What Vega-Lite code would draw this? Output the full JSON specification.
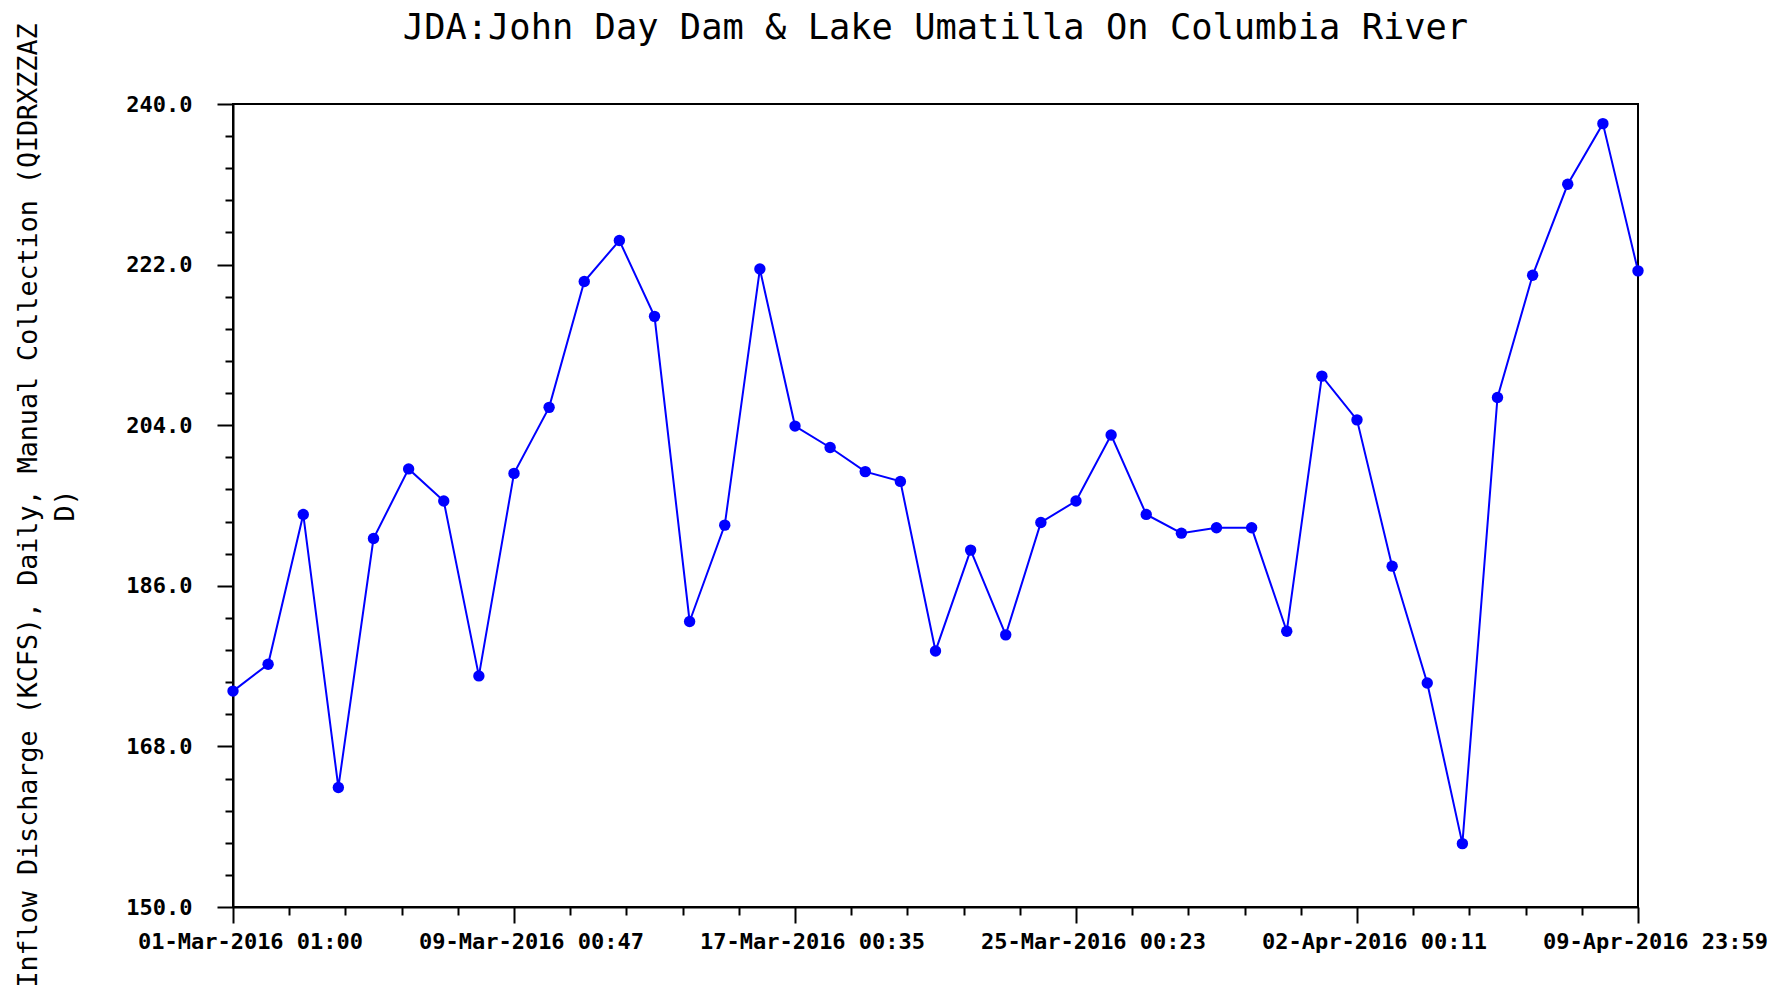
{
  "$schema": "https://vega.github.io/schema/vega-lite/v6.json",
  "width": 1405,
  "height": 803,
  "autosize": {"type": "none"},
  "padding": {"left": 233, "top": 104, "right": 144, "bottom": 82},
  "background": "white",
  "title": {"text": "JDA:John Day Dam & Lake Umatilla On Columbia River", "font": "DejaVu Sans Mono", "fontSize": 35.4, "fontWeight": "normal", "color": "black", "offset": -23, "anchor": "middle"},
  "config": {"view": {"stroke": "black", "strokeWidth": 2}},
  "data": {"values": [
    {"time": "2016-03-01T01:00:00Z", "kcfs": 174.2},
    {"time": "2016-03-02T00:58:00Z", "kcfs": 177.2},
    {"time": "2016-03-03T00:57:00Z", "kcfs": 194.0},
    {"time": "2016-03-04T00:55:00Z", "kcfs": 163.4},
    {"time": "2016-03-05T00:54:00Z", "kcfs": 191.3},
    {"time": "2016-03-06T00:52:00Z", "kcfs": 199.1},
    {"time": "2016-03-07T00:51:00Z", "kcfs": 195.5},
    {"time": "2016-03-08T00:49:00Z", "kcfs": 175.9},
    {"time": "2016-03-09T00:48:00Z", "kcfs": 198.6},
    {"time": "2016-03-10T00:46:00Z", "kcfs": 206.0},
    {"time": "2016-03-11T00:45:00Z", "kcfs": 220.1},
    {"time": "2016-03-12T00:43:00Z", "kcfs": 224.7},
    {"time": "2016-03-13T00:42:00Z", "kcfs": 216.2},
    {"time": "2016-03-14T00:40:00Z", "kcfs": 182.0},
    {"time": "2016-03-15T00:39:00Z", "kcfs": 192.8},
    {"time": "2016-03-16T00:37:00Z", "kcfs": 221.5},
    {"time": "2016-03-17T00:36:00Z", "kcfs": 203.9},
    {"time": "2016-03-18T00:34:00Z", "kcfs": 201.5},
    {"time": "2016-03-19T00:33:00Z", "kcfs": 198.8},
    {"time": "2016-03-20T00:31:00Z", "kcfs": 197.7},
    {"time": "2016-03-21T00:30:00Z", "kcfs": 178.7},
    {"time": "2016-03-22T00:28:00Z", "kcfs": 190.0},
    {"time": "2016-03-23T00:26:00Z", "kcfs": 180.5},
    {"time": "2016-03-24T00:25:00Z", "kcfs": 193.1},
    {"time": "2016-03-25T00:23:00Z", "kcfs": 195.5},
    {"time": "2016-03-26T00:22:00Z", "kcfs": 202.9},
    {"time": "2016-03-27T00:20:00Z", "kcfs": 194.0},
    {"time": "2016-03-28T00:19:00Z", "kcfs": 191.9},
    {"time": "2016-03-29T00:17:00Z", "kcfs": 192.5},
    {"time": "2016-03-30T00:16:00Z", "kcfs": 192.5},
    {"time": "2016-03-31T00:14:00Z", "kcfs": 180.9},
    {"time": "2016-04-01T00:13:00Z", "kcfs": 209.5},
    {"time": "2016-04-02T00:11:00Z", "kcfs": 204.6},
    {"time": "2016-04-03T00:10:00Z", "kcfs": 188.2},
    {"time": "2016-04-04T00:08:00Z", "kcfs": 175.1},
    {"time": "2016-04-05T00:07:00Z", "kcfs": 157.1},
    {"time": "2016-04-06T00:05:00Z", "kcfs": 207.1},
    {"time": "2016-04-07T00:04:00Z", "kcfs": 220.8},
    {"time": "2016-04-08T00:02:00Z", "kcfs": 231.0},
    {"time": "2016-04-09T00:01:00Z", "kcfs": 237.8},
    {"time": "2016-04-09T23:59:00Z", "kcfs": 221.3}
  ]},
  "encoding": {
    "x": {
      "field": "time", "type": "temporal",
      "scale": {"type": "utc", "domain": [
        {"utc": true, "year": 2016, "month": 3, "date": 1, "hours": 1, "minutes": 0},
        {"utc": true, "year": 2016, "month": 4, "date": 9, "hours": 23, "minutes": 59}
      ]},
      "axis": {
        "values": [
          {"utc": true, "year": 2016, "month": 3, "date": 1, "hours": 1, "minutes": 0, "seconds": 0},
          {"utc": true, "year": 2016, "month": 3, "date": 2, "hours": 15, "minutes": 21, "seconds": 34},
          {"utc": true, "year": 2016, "month": 3, "date": 4, "hours": 5, "minutes": 43, "seconds": 7},
          {"utc": true, "year": 2016, "month": 3, "date": 5, "hours": 20, "minutes": 4, "seconds": 41},
          {"utc": true, "year": 2016, "month": 3, "date": 7, "hours": 10, "minutes": 26, "seconds": 14},
          {"utc": true, "year": 2016, "month": 3, "date": 9, "hours": 0, "minutes": 47, "seconds": 48},
          {"utc": true, "year": 2016, "month": 3, "date": 10, "hours": 15, "minutes": 9, "seconds": 22},
          {"utc": true, "year": 2016, "month": 3, "date": 12, "hours": 5, "minutes": 30, "seconds": 55},
          {"utc": true, "year": 2016, "month": 3, "date": 13, "hours": 19, "minutes": 52, "seconds": 29},
          {"utc": true, "year": 2016, "month": 3, "date": 15, "hours": 10, "minutes": 14, "seconds": 2},
          {"utc": true, "year": 2016, "month": 3, "date": 17, "hours": 0, "minutes": 35, "seconds": 36},
          {"utc": true, "year": 2016, "month": 3, "date": 18, "hours": 14, "minutes": 57, "seconds": 10},
          {"utc": true, "year": 2016, "month": 3, "date": 20, "hours": 5, "minutes": 18, "seconds": 43},
          {"utc": true, "year": 2016, "month": 3, "date": 21, "hours": 19, "minutes": 40, "seconds": 17},
          {"utc": true, "year": 2016, "month": 3, "date": 23, "hours": 10, "minutes": 1, "seconds": 50},
          {"utc": true, "year": 2016, "month": 3, "date": 25, "hours": 0, "minutes": 23, "seconds": 24},
          {"utc": true, "year": 2016, "month": 3, "date": 26, "hours": 14, "minutes": 44, "seconds": 58},
          {"utc": true, "year": 2016, "month": 3, "date": 28, "hours": 5, "minutes": 6, "seconds": 31},
          {"utc": true, "year": 2016, "month": 3, "date": 29, "hours": 19, "minutes": 28, "seconds": 5},
          {"utc": true, "year": 2016, "month": 3, "date": 31, "hours": 9, "minutes": 49, "seconds": 38},
          {"utc": true, "year": 2016, "month": 4, "date": 2, "hours": 0, "minutes": 11, "seconds": 12},
          {"utc": true, "year": 2016, "month": 4, "date": 3, "hours": 14, "minutes": 32, "seconds": 46},
          {"utc": true, "year": 2016, "month": 4, "date": 5, "hours": 4, "minutes": 54, "seconds": 19},
          {"utc": true, "year": 2016, "month": 4, "date": 6, "hours": 19, "minutes": 15, "seconds": 53},
          {"utc": true, "year": 2016, "month": 4, "date": 8, "hours": 9, "minutes": 37, "seconds": 26},
          {"utc": true, "year": 2016, "month": 4, "date": 9, "hours": 23, "minutes": 59, "seconds": 0}
        ],
        "format": "%d-%b-%Y %H:%M",
        "labelExpr": "round(datum.index * 25) % 5 === 0 ? datum.label : ''",
        "tickSize": {"condition": {"test": "round(datum.index * 25) % 5 === 0", "value": 16}, "value": 8},
        "tickColor": "black", "tickWidth": 2,
        "domainColor": "black", "domainWidth": 2,
        "labelFont": "DejaVu Sans Mono", "labelFontSize": 22, "labelFontWeight": "bold", "labelColor": "black",
        "labelPadding": 8, "labelOffset": 17, "labelFlush": false, "labelOverlap": false, "labelLimit": 0,
        "grid": false, "title": null
      }
    },
    "y": {
      "field": "kcfs", "type": "quantitative",
      "scale": {"domain": [150, 240], "zero": false, "nice": false},
      "axis": {
        "values": [150, 153.6, 157.2, 160.8, 164.4, 168, 171.6, 175.2, 178.8, 182.4, 186, 189.6, 193.2, 196.8, 200.4, 204, 207.6, 211.2, 214.8, 218.4, 222, 225.6, 229.2, 232.8, 236.4, 240],
        "format": ".1f",
        "labelExpr": "round(datum.index * 25) % 5 === 0 ? datum.label : ''",
        "tickSize": {"condition": {"test": "round(datum.index * 25) % 5 === 0", "value": 16}, "value": 8},
        "tickColor": "black", "tickWidth": 2,
        "domainColor": "black", "domainWidth": 2,
        "labelFont": "DejaVu Sans Mono", "labelFontSize": 22, "labelFontWeight": "bold", "labelColor": "black",
        "labelPadding": 25, "labelFlush": false, "labelOverlap": false, "labelLimit": 0,
        "grid": false,
        "title": ["Inflow Discharge (KCFS), Daily, Manual Collection (QIDRXZZAZ", "D)"],
        "titleFont": "DejaVu Sans Mono", "titleFontSize": 26.7, "titleFontWeight": "normal", "titleColor": "black",
        "titleAngle": -90, "titleX": -205, "titleY": 401, "titleAlign": "center", "titleBaseline": "middle", "titleLineHeight": 37, "titleLimit": 0
      }
    }
  },
  "layer": [
    {"mark": {"type": "line", "color": "#0000ff", "strokeWidth": 2}},
    {"mark": {"type": "point", "filled": true, "color": "#0000ff", "size": 130, "opacity": 1}}
  ]
}
